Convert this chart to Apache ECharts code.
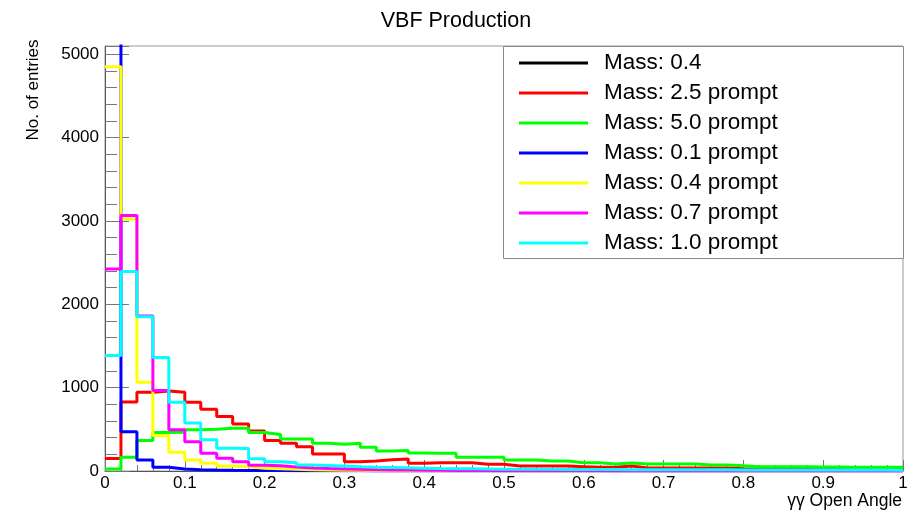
<!DOCTYPE html>
<html>
<head>
<meta charset="utf-8">
<script src="https://cdn.jsdelivr.net/npm/echarts@6/dist/echarts.min.js"></script>
<style>
  html, body { margin: 0; padding: 0; background: #fff; }
  #chart { width: 912px; height: 512px; }
</style>
</head>
<body>
<div id="chart"></div>
<script>
// ---- data ----
const chartTitle = 'VBF Production';
const xAxisTitle = 'γγ Open Angle';
const yAxisTitle = 'No. of entries';
const binWidth = 0.02;
const nBins = 50;
const xTickLabels = ['0', '0.1', '0.2', '0.3', '0.4', '0.5', '0.6', '0.7', '0.8', '0.9', '1'];
const yTickLabels = ['0', '1000', '2000', '3000', '4000', '5000'];

const seriesNames = ['Mass: 0.4', 'Mass: 2.5 prompt', 'Mass: 5.0 prompt', 'Mass: 0.1 prompt',
                     'Mass: 0.4 prompt', 'Mass: 0.7 prompt', 'Mass: 1.0 prompt'];
const seriesColors = ['#000000', '#ff0000', '#00ff00', '#0000ff', '#ffff00', '#ff00ff', '#00ffff'];

const valsMass04 = []; // hidden underneath the others in the picture
const valsMass25prompt = [150, 828, 944, 960, 944, 826, 741, 653, 565, 481,
                          365, 333, 292, 205, 205, 112, 120, 135, 145, 92,
                          100, 100, 100, 80, 80, 60, 60, 60, 60, 52,
                          44, 44, 60, 36, 36, 36, 36, 36, 36, 28,
                          24, 22, 20, 20, 18, 18, 16, 16, 14, 14];
const valsMass50prompt = [24, 164, 365, 462, 465, 495, 500, 512, 512, 462,
                          438, 385, 385, 333, 321, 333, 285, 240, 245, 215,
                          212, 212, 164, 164, 164, 132, 132, 120, 120, 100,
                          100, 84, 96, 84, 84, 84, 84, 72, 72, 64,
                          52, 52, 50, 50, 48, 48, 46, 46, 44, 44];
const valsMass01prompt = [7800, 472, 132, 44, 24, 16, 12, 9, 7, 6,
                          5, 4, 3, 3, 2, 2, 1, 1, 1, 1,
                          0, 0, 0, 0, 0, 0, 0, 0, 0, 0,
                          0, 0, 0, 0, 0, 0, 0, 0, 0, 0,
                          0, 0, 0, 0, 0, 0, 0, 0, 0, 0];
const valsMass04prompt = [4850, 3025, 1066, 425, 224, 132, 92, 60, 50, 32,
                          26, 20, 15, 12, 10, 8, 6, 5, 4, 3,
                          3, 2, 2, 2, 1, 1, 1, 1, 0, 0,
                          0, 0, 0, 0, 0, 0, 0, 0, 0, 0,
                          0, 0, 0, 0, 0, 0, 0, 0, 0, 0];
const valsMass07prompt = [2425, 3065, 1860, 965, 495, 352, 212, 152, 112, 70,
                          62, 48, 36, 30, 25, 20, 16, 13, 11, 9,
                          8, 7, 6, 5, 4, 4, 3, 3, 2, 2,
                          2, 1, 1, 1, 1, 0, 0, 0, 0, 0,
                          0, 0, 0, 0, 0, 0, 0, 0, 0, 0];
const valsMass10prompt = [1385, 2395, 1850, 1362, 825, 575, 375, 272, 270, 148,
                          112, 100, 72, 66, 60, 52, 46, 42, 38, 34,
                          30, 28, 26, 24, 22, 21, 20, 20, 19, 18,
                          17, 17, 16, 16, 15, 15, 14, 14, 14, 13,
                          13, 13, 12, 12, 12, 12, 11, 11, 11, 10];

const allValues = [valsMass04, valsMass25prompt, valsMass50prompt, valsMass01prompt,
                   valsMass04prompt, valsMass07prompt, valsMass10prompt];

// ---- build ----
const binLowEdges = Array.from({ length: nBins }, (_, i) => +(i * binWidth).toFixed(2));
function histSteps(vals) {
  if (!vals.length) return [];
  const pts = vals.map((v, i) => [binLowEdges[i], v]);
  pts.push([+(nBins * binWidth).toFixed(2), vals[vals.length - 1]]);
  return pts;
}

const FONT = '"Liberation Sans", Arial, Helvetica, sans-serif';
const chart = echarts.init(document.getElementById('chart'), null, { renderer: 'canvas' });

const series = seriesNames.map((name, k) => ({
  name: name,
  type: 'line',
  step: 'end',
  data: histSteps(allValues[k]),
  showSymbol: false,
  symbol: 'none',
  clip: true,
  color: seriesColors[k],
  lineStyle: { width: 3, color: seriesColors[k] },
  itemStyle: { color: seriesColors[k] },
  emphasis: { disabled: true },
  z: 2
}));

const option = {
  animation: false,
  backgroundColor: '#ffffff',
  textStyle: { fontFamily: FONT },
  title: {
    text: chartTitle,
    left: 'center',
    top: 5,
    textStyle: { fontFamily: FONT, fontSize: 21.5, fontWeight: 'normal', color: '#000' }
  },
  grid: {
    left: 105, right: 9, top: 46, bottom: 41,
    show: true, borderColor: '#9a9a9a', borderWidth: 1, backgroundColor: 'transparent'
  },
  legend: {
    orient: 'vertical',
    left: 519,
    top: 48,
    padding: 0,
    itemGap: 0,
    itemWidth: 69,
    itemHeight: 3,
    icon: 'rect',
    selectedMode: false,
    z: 10,
    data: seriesNames,
    textStyle: { fontFamily: FONT, fontSize: 22.5, color: '#000', lineHeight: 30, padding: [0, 0, 0, 11] }
  },
  xAxis: {
    type: 'value',
    min: 0, max: 1, interval: 0.1,
    name: xAxisTitle,
    nameLocation: 'end',
    nameGap: -1,
    nameTextStyle: { fontFamily: FONT, fontSize: 17.5, color: '#000', align: 'right', verticalAlign: 'top', padding: [21, 0, 0, 0] },
    axisLine: { show: true, onZero: false, lineStyle: { color: '#555', width: 1 } },
    axisTick: { show: true, inside: true, length: 11, lineStyle: { color: '#777' } },
    minorTick: { show: true, splitNumber: 5, length: 6, lineStyle: { color: '#777' } },
    axisLabel: {
      fontFamily: FONT, fontSize: 17, color: '#000', margin: 4,
      formatter: (v) => { const i = Math.round(v * 10); return xTickLabels[i] !== undefined ? xTickLabels[i] : ''; }
    },
    splitLine: { show: false }
  },
  yAxis: {
    type: 'value',
    min: 0, max: 5100, interval: 1000,
    axisLine: { show: true, onZero: false, lineStyle: { color: '#555', width: 1 } },
    axisTick: { show: true, inside: true, length: 24, lineStyle: { color: '#777' } },
    minorTick: { show: true, splitNumber: 5, length: 12, lineStyle: { color: '#777' } },
    axisLabel: {
      fontFamily: FONT, fontSize: 17, color: '#000', margin: 6, showMaxLabel: false,
      formatter: (v) => { const i = Math.round(v / 1000); return (v % 1000 === 0 && yTickLabels[i] !== undefined) ? yTickLabels[i] : ''; }
    },
    splitLine: { show: false }
  },
  graphic: [
    {
      type: 'rect',
      z: 5,
      shape: { x: 503.5, y: 46.5, width: 400, height: 212 },
      style: { fill: '#ffffff', stroke: '#8a8a8a', lineWidth: 1 }
    },
    {
      type: 'text',
      x: 33, y: 90,
      rotation: Math.PI / 2,
      style: { text: yAxisTitle, font: '17px ' + FONT, fill: '#000', textAlign: 'center', textVerticalAlign: 'middle' }
    }
  ],
  series: series
};

chart.setOption(option);
</script>
</body>
</html>
